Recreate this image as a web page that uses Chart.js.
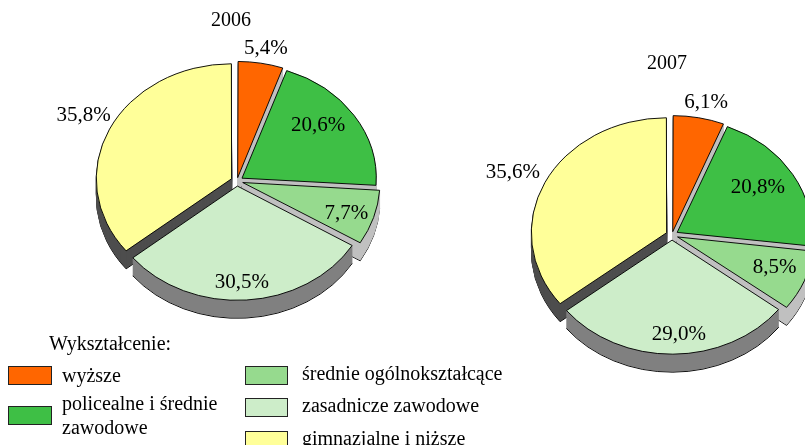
<!DOCTYPE html>
<html lang="pl">
<head>
<meta charset="utf-8">
<script src="https://cdn.jsdelivr.net/npm/chart.js@4"></script>
<style>
  html, body {
    margin: 0;
    padding: 0;
    width: 805px;
    height: 445px;
    overflow: hidden;
    background: #fff;
    font-family: "Liberation Serif", "Times New Roman", serif;
    color: #000;
  }
  #page { position: relative; width: 805px; height: 445px; overflow: hidden; }
  canvas { position: absolute; }
  #pie2006 { left: 0; top: 0; }
  #pie2007 { left: 472px; top: 35px; }
  .year { position: absolute; font-size: 20px; line-height: 24px; width: 80px; text-align: center; }
  .lg-title, .lg-text { position: absolute; font-size: 20px; line-height: 24px; }
  .lg-box { position: absolute; border: 1px solid #222; box-sizing: border-box; }
</style>
</head>
<body>
<div id="page">
  <canvas id="pie2006" width="474" height="362"></canvas>
  <canvas id="pie2007" width="400" height="400"></canvas>
  <div class="year" id="year2006" style="left:191px; top:7px;"></div>
  <div class="year" id="year2007" style="left:627px; top:50px;"></div>
  <div class="lg-title" style="left:49px; top:331px;">Wykształcenie:</div>
  <div id="legend"></div>
</div>
<script>
// dane
const years = ["2006", "2007"];
const categories = [
  "wyższe",
  "policealne i średnie zawodowe",
  "średnie ogólnokształcące",
  "zasadnicze zawodowe",
  "gimnazjalne i niższe"
];
const values2006 = [5.4, 20.6, 7.7, 30.5, 35.8];
const values2007 = [6.1, 20.8, 8.5, 29.0, 35.6];

// wyglad
const sliceColors = ["#ff6600", "#3ebf45", "#96da8e", "#cdedc9", "#ffff99"];
const wallColors = ["#c0c0c0", "#c0c0c0", "#c0c0c0", "#808080", "#4d4d4d"];
const sliceOffsets = [16, 24, 24, 24, 24];
const labelFactors2006 = [[1.27, 1.17], [0.72, 0.88], [0.85, 0.93], [0.56, 0.89], [1.26, 1.33]];
const labelFactors2007 = [[1.33, 1.18], [0.74, 0.82], [0.82, 0.76], [8, 0.87], [1.31, 1.25]];

function fmt(v) {
  return v.toFixed(1).replace(".", ",") + "%";
}

// pseudo 3D: splaszczenie elipsy + "sciany" rysowane kopiami wycinkow
const pie3d = {
  id: "pie3d",
  beforeDatasetsDraw(chart, args, opts) {
    const ctx = chart.ctx;
    const arcs = chart.getDatasetMeta(0).data;
    const cx = arcs[0].x, cy = arcs[0].y;
    const k = opts.tilt;
    ctx.save();
    ctx.translate(cx, cy);
    ctx.scale(1, k);
    ctx.translate(-cx, -cy);
    for (let s = opts.depth; s >= 1; s--) {
      arcs.forEach((arc, i) => {
        const saved = arc.options;
        arc.options = Object.assign({}, saved, {
          backgroundColor: opts.walls[i],
          borderColor: s === opts.depth ? "#000" : opts.walls[i]
        });
        ctx.save();
        ctx.translate(0, s / k);
        arc.draw(ctx);
        ctx.restore();
        arc.options = saved;
      });
    }
  },
  afterDatasetsDraw(chart) {
    chart.ctx.restore();
  },
  afterDraw(chart, args, opts) {
    const ctx = chart.ctx;
    const arcs = chart.getDatasetMeta(0).data;
    const values = chart.data.datasets[0].data;
    const k = opts.tilt;
    ctx.save();
    ctx.fillStyle = "#000";
    ctx.font = "21px 'Liberation Serif', 'Times New Roman', serif";
    ctx.textAlign = "center";
    ctx.textBaseline = "middle";
    arcs.forEach((arc, i) => {
      const mid = (arc.startAngle + arc.endAngle) / 2;
      const f = opts.labels[i];
      const x = arc.x + Math.cos(mid) * 135 * f[0];
      const y = arc.y + Math.sin(mid) * 135 * k * f[1];
      ctx.fillText(fmt(values[i]), x, y);
    });
    ctx.restore();
  }
};

function createPie(canvasId, values, labelFactors) {
  return new Chart(document.getElementById(canvasId), {
    type: "pie",
    data: {
      labels: categories,
      datasets: [{
        data: values,
        backgroundColor: sliceColors,
        borderColor: "#000",
        borderWidth: 1,
        offset: sliceOffsets,
        radius: 134
      }]
    },
    options: {
      responsive: false,
      animation: false,
      events: [],
      layout: { padding: 0 },
      plugins: {
        legend: { display: false },
        tooltip: { enabled: false },
        title: { display: false },
        pie3d: { tilt: 0.85, depth: 18, walls: wallColors, labels: labelFactors }
      }
    },
    plugins: [pie3d]
  });
}

createPie("pie2006", values2006, labelFactors2006);
createPie("pie2007", values2007, labelFactors2007);

document.getElementById("year2006").textContent = years[0];
document.getElementById("year2007").textContent = years[1];

// legenda
const legendSlots = [
  { box: [8, 366, 44, 19], text: [62, 363], width: 175 },
  { box: [8, 406, 44, 19], text: [62, 391], width: 175 },
  { box: [245, 366, 43, 19], text: [302, 361], width: 300 },
  { box: [245, 398, 43, 19], text: [302, 393], width: 300 },
  { box: [245, 431, 43, 19], text: [302, 426], width: 300 }
];

const legend = document.getElementById("legend");
categories.forEach((name, i) => {
  const slot = legendSlots[i];
  const box = document.createElement("div");
  box.className = "lg-box";
  box.style.left = slot.box[0] + "px";
  box.style.top = slot.box[1] + "px";
  box.style.width = slot.box[2] + "px";
  box.style.height = slot.box[3] + "px";
  box.style.background = sliceColors[i];
  legend.appendChild(box);

  const txt = document.createElement("div");
  txt.className = "lg-text";
  txt.style.left = slot.text[0] + "px";
  txt.style.top = slot.text[1] + "px";
  txt.style.width = slot.width + "px";
  txt.textContent = name;
  legend.appendChild(txt);
});
</script>
</body>
</html>
